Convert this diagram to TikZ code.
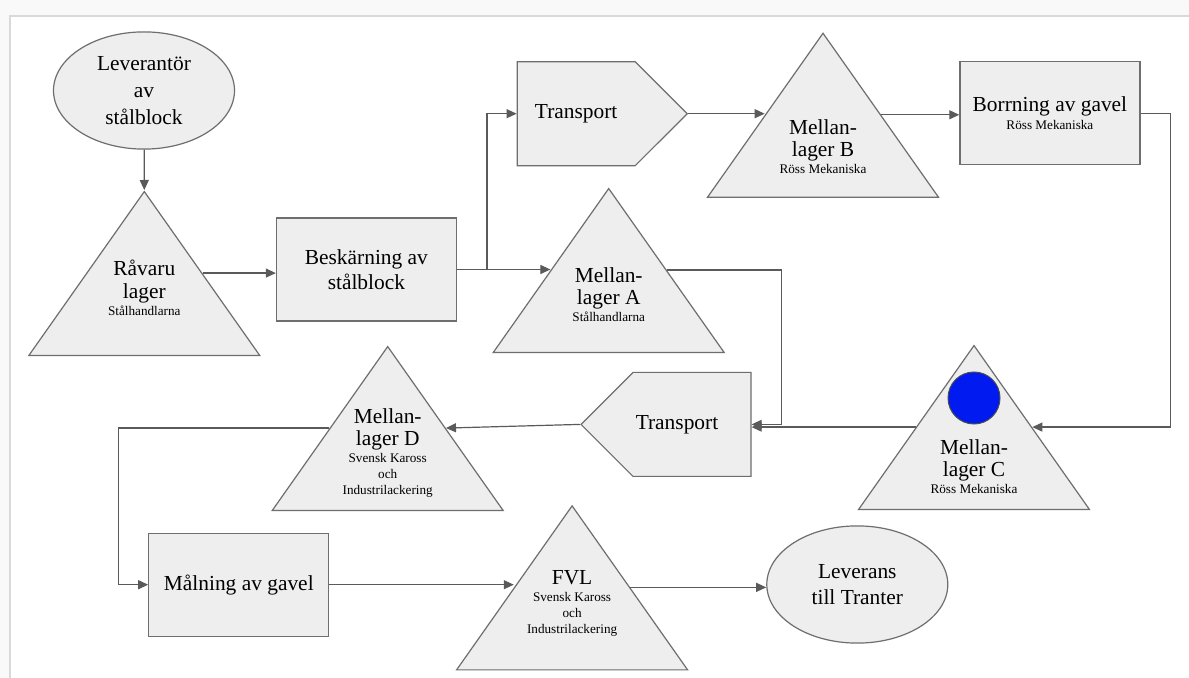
\documentclass[tikz,border=0pt]{standalone}
\usepackage{fontspec}
\setmainfont{Liberation Serif}
\usetikzlibrary{shapes.geometric, shapes.symbols, arrows.meta, positioning, calc}
\definecolor{colFill}{RGB}{238,238,238}
\definecolor{colBorder}{RGB}{110,110,110}
\definecolor{colArrow}{RGB}{90,90,90}
\definecolor{colDot}{RGB}{0,26,240}
\newcommand{\firmtext}{\fontsize{6.6}{8}\selectfont}
\tikzset{
  base/.style={
    draw=colBorder, fill=colFill, line width=0.6pt,
    font=\fontsize{10.7}{12.8}\selectfont,
    align=center, inner sep=0pt
  },
  procBox/.style={base, rectangle, minimum width=90pt, minimum height=51.5pt},
  endEll/.style={base, ellipse, minimum width=90.5pt, minimum height=58.6pt,
    font=\fontsize{10.7}{13.4}\selectfont},
  lagerTri/.style={base, isosceles triangle, isosceles triangle stretches,
    shape border rotate=90, minimum width=115.5pt, minimum height=82pt, anchor=apex},
  lagerTxt/.style={font=\fontsize{10.7}{11.3}\selectfont, align=center, inner sep=0pt, anchor=north},
  transSig/.style={base, signal, signal pointer angle=90, minimum height=52pt, minimum width=85pt},
  dot/.style={circle, draw=black!70, fill=colDot, line width=0.5pt, minimum size=26pt, inner sep=0pt},
  arr/.style={-{Triangle[length=5pt, width=4.5pt]}, line width=0.6pt, color=colArrow},
}
\begin{document}
\begin{tikzpicture}[x=0.5pt, y=-0.5pt]
\useasboundingbox (0,0) rectangle (1189,678);

% ---- Frame ----------------------------------------------------
\fill[gray!5] (0,0) rectangle (1189,678);
\fill[white] (10,16) rectangle (1189,678);
\draw[gray!30, line width=1pt] (10,678) -- (10,16) -- (1189,16);

% ---- Nodes ----------------------------------------------------
\node[endEll] (lev) at (144,90.5) {Leverantör\\av\\stålblock};

\node[lagerTri] (rav) at (144.3,190) {};
\node[lagerTxt] (ravTxt) at (144.3,260) {Råvaru\\lager\\[-3pt]\firmtext Stålhandlarna};

\node[procBox] (besk) at (366.4,269.5) {Beskärning av\\stålblock};

\node[transSig, signal to=east, anchor=west] (tr1) at (516.6,113.7) {Transport};

\node[lagerTri] (mlA) at (608.7,187) {};
\node[lagerTxt] (mlATxt) at (608.7,267) {Mellan-\\lager A\\[-3pt]\firmtext Stålhandlarna};

\node[lagerTri] (mlB) at (823,31.7) {};
\node[lagerTxt] (mlBTxt) at (823,119) {Mellan-\\lager B\\[-3pt]\firmtext Röss Mekaniska};

\node[procBox] (bor) at (1049.9,113.3) {Borrning av gavel\\[-4pt]\firmtext Röss Mekaniska};

\node[lagerTri] (mlC) at (974,344) {};
\node[dot] (cDot) at (974,398) {};
\node[lagerTxt] (mlCTxt) at (974,439) {Mellan-\\lager C\\[-3pt]\firmtext Röss Mekaniska};

\node[transSig, signal to=west, anchor=east] (tr2) at (751.6,424.4) {Transport\hspace*{15pt}};

\node[lagerTri] (mlD) at (387.7,345) {};
\node[lagerTxt] (mlDTxt) at (387.7,408) {Mellan-\\lager D\\[-3pt]\firmtext Svensk Kaross\\[-3.3pt]\firmtext och\\[-3.3pt]\firmtext Industrilackering};

\node[procBox] (mal) at (238.8,584.7) {Målning av gavel};

\node[lagerTri] (fvl) at (572.1,504.3) {};
\node[lagerTxt] (fvlTxt) at (572.1,570) {FVL\\[-3pt]\firmtext Svensk Kaross\\[-3.3pt]\firmtext och\\[-3.3pt]\firmtext Industrilackering};

\node[endEll] (lvr) at (857.3,584.5) {Leverans\\till Tranter};

% ---- Side points of the triangles -----------------------------
\foreach \t in {rav,mlA,mlB,mlC,mlD,fvl} {
  \coordinate (\t L) at ($(\t.apex)!0.5!(\t.left corner)$);
  \coordinate (\t R) at ($(\t.apex)!0.5!(\t.right corner)$);
}
\coordinate (split) at ($(besk.east)+(30,0)$);

% ---- Arrows ---------------------------------------------------
\draw[arr] (lev) -- (rav.apex);
\draw[arr] (ravR) -- (ravR -| besk.west);
\draw[arr] (besk.east) -- (split) |- (tr1.west);
\draw[arr] (split) -- (split -| mlAL);
\draw[arr] (tr1.east) -- (tr1.east -| mlBL);
\draw[arr] (mlBR) -- (mlBR -| bor.west);
\draw[arr] (bor.east) -- ++(30,0) |- (mlCR);
\draw[arr] (mlCL) -- (mlCL -| tr2.east);
\draw[arr] (mlAR) -| ($(tr2.east)+(30,0)$) -- (tr2.east);
\draw[arr] (tr2.west) -- (mlDR);
\draw[arr] (mlDL) -| ($(mal.west)+(-30,0)$) -- (mal.west);
\draw[arr] (mal.east) -- (mal.east -| fvlL);
\draw[arr] (fvlR) -- (fvlR -| lvr.west);

\end{tikzpicture}
\end{document}
